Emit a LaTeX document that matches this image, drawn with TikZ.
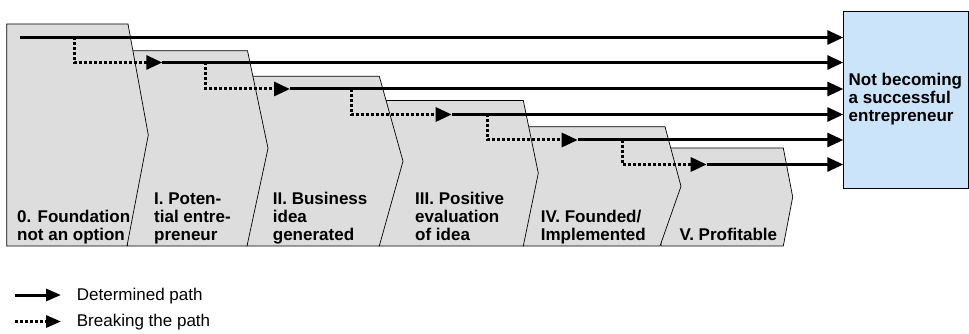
\documentclass[tikz,border=0pt]{standalone}
\usepackage{fontspec}
\setmainfont{Liberation Sans}
\usetikzlibrary{arrows.meta}
\definecolor{stagegray}{RGB}{221,221,221}
\definecolor{goalblue}{RGB}{204,228,250}
\tikzset{
  stage/.style={draw=black, line width=0.7pt, fill=stagegray, line join=miter},
  lbl/.style={font=\fontsize{17}{18}\selectfont\bfseries, align=left, inner sep=0pt, anchor=base west},
  legendtext/.style={font=\fontsize{17}{18}\selectfont, inner sep=0pt, anchor=base west},
  goal/.style={draw=black, line width=0.7pt, fill=goalblue, minimum width=125pt, minimum height=177.3pt,
    anchor=north west, inner sep=0pt},
  determined/.style={line width=3pt, -{Triangle[length=16pt,width=14pt]}},
  breaking/.style={line width=3pt, dash pattern=on 3pt off 2pt, -{Triangle[length=16pt,width=14pt]}},
  legdetermined/.style={line width=3pt, -{Triangle[length=15pt,width=12pt]}},
  legbreaking/.style={line width=3pt, dash pattern=on 3pt off 2pt, -{Triangle[length=15pt,width=12pt]}}
}
\begin{document}
\begin{tikzpicture}[x=1pt,y=-1pt]
\useasboundingbox (0,0) rectangle (969,334);

% stage chevrons, drawn back to front
\def\bot{246}
\draw[stage] (661,148) -- (783.3,148) -- (792.7,197) -- (783.3,\bot) -- (661,\bot) -- cycle;
\draw[stage] (523.3,126.7) -- (665,126.7) -- (681,186.3) -- (660,\bot) -- (523.3,\bot) -- cycle;
\draw[stage] (379.3,100.5) -- (523.3,100.5) -- (538.3,173.2) -- (523.3,\bot) -- (379.3,\bot) -- cycle;
\draw[stage] (247,76.3) -- (379.3,76.3) -- (403,161.2) -- (379.3,\bot) -- (247,\bot) -- cycle;
\draw[stage] (127.5,50.7) -- (247.5,50.7) -- (268,148.3) -- (247,\bot) -- (127.5,\bot) -- cycle;
\draw[stage] (6.7,24) -- (128,24) -- (148.3,135) -- (127,\bot) -- (6.7,\bot) -- cycle;

% stage labels (anchored at the baseline of their last line)
\node[lbl] (l0) at (17,240) {0. Foundation\\not an option};
\node[lbl] (l1) at (154,240) {I. Poten-\\tial entre-\\preneur};
\node[lbl] (l2) at (272.7,240) {II. Business\\idea\\generated};
\node[lbl] (l3) at (415,240) {III. Positive\\evaluation\\of idea};
\node[lbl] (l4) at (540.7,240) {IV. Founded/\\Implemented};
\node[lbl] (l5) at (679.3,240) {V. Profitable};

% outcome box
\node[goal] (goal) at (843.3,11) {};
\node[lbl] (goaltext) at (848.5,122) {Not becoming\\a successful\\entrepreneur};

% path starts and branching points
\coordinate (s1) at (20,37.5);
\coordinate (s2) at (162.3,62.5);
\coordinate (s3) at (290,89);
\coordinate (s4) at (451.7,114.5);
\coordinate (s5) at (577.7,140);
\coordinate (s6) at (706.7,164.5);
\coordinate (d1) at (74,37.5);
\coordinate (d2) at (205.7,62.5);
\coordinate (d3) at (351,89);
\coordinate (d4) at (487.3,114.5);
\coordinate (d5) at (622.7,140);

% determined paths
\foreach \i in {1,...,6}
  \draw[determined] (s\i) -- (s\i -| goal.west);

% breaking the path
\draw[breaking] (d1) |- (s2);
\draw[breaking] (d2) |- (s3);
\draw[breaking] (d3) |- (s4);
\draw[breaking] (d4) |- (s5);
\draw[breaking] (d5) |- (s6);

% legend
\coordinate (ga) at (15,295);
\coordinate (gb) at (61,295);
\coordinate (ha) at (15,321.5);
\coordinate (hb) at (61,321.5);
\draw[legdetermined] (ga) -- (gb);
\draw[legbreaking] (ha) -- (hb);
\node[legendtext] (t1) at (76.7,300.5) {Determined path};
\node[legendtext] (t2) at (76.7,326.5) {Breaking the path};
\end{tikzpicture}
\end{document}
